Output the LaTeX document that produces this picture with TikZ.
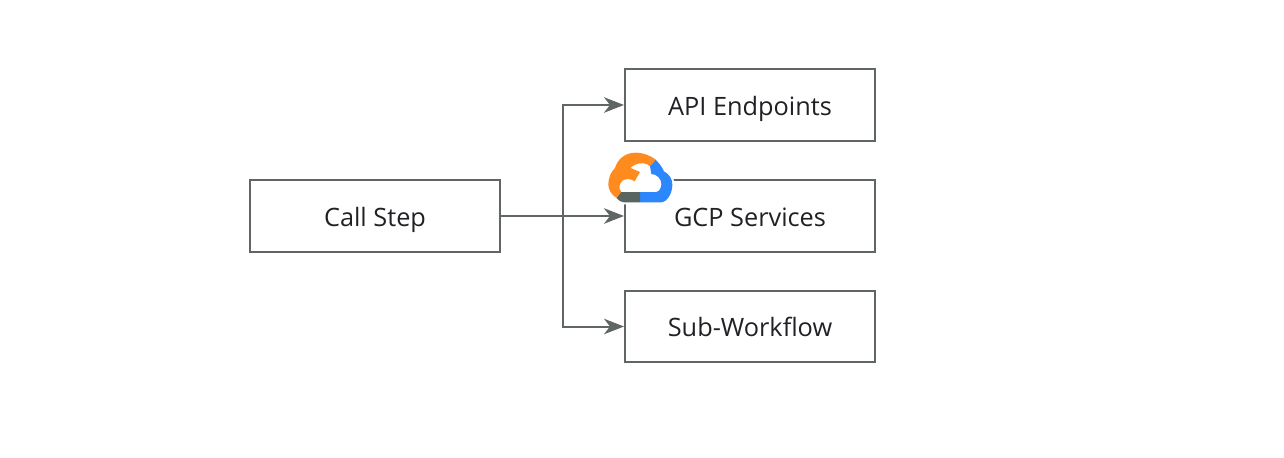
\documentclass[tikz,border=0pt]{standalone}
\usepackage{fontspec}
\setmainfont{Open Sans}
\usepackage{xcolor}
\definecolor{linegrey}  {HTML}{5F6664}
\definecolor{textdark}  {HTML}{202124}
\definecolor{logoorange}{HTML}{FF8A1E}
\definecolor{logoblue}  {HTML}{2B87FB}
\definecolor{logogrey}  {HTML}{5A6461}
\usetikzlibrary{arrows.meta, positioning, calc}

\begin{document}
\begin{tikzpicture}[x=0.2mm, y=-0.2mm,
    box/.style={draw=linegrey, line width=0.4mm, minimum width=50mm,
                minimum height=14.3mm, inner sep=0pt, text=textdark,
                text height=4.5mm, text depth=0.5mm,
                font=\fontsize{14.4}{17}\selectfont},
    link/.style={draw=linegrey, line width=0.4mm,
                 -{Stealth[length=4mm, width=3.1mm, inset=1.2mm]}}]

    \useasboundingbox (0, 0) rectangle (1284, 458);

    % --- Boxes.
    \node[box] (call) at (375, 216) {Call Step};
    \node[box] (api)  at (750, 105) {API Endpoints};
    \node[box] (gcp)  at (750, 216) {GCP Services};
    \node[box] (sub)  at (750, 326.5) {Sub-Workflow};

    % --- Links out of the call step.
    \coordinate (branch) at (562.5, 216);
    \draw[link] (call) -- (gcp);
    \draw[link] (branch) |- (api);
    \draw[link] (branch) |- (sub);

    % --- Cloud logo on the corner of the middle box.
    \begin{scope}[shift={(604, 148)}, x=0.0667mm, y=-0.0667mm]
        \fill[white, draw=white, line width=0.8mm]
            (155,35) .. controls (135,20) and (115,14) .. (95,14)
            .. controls (62,14) and (40,35) .. (33,60)
            .. controls (20,72) and (13,90) .. (13,110)
            .. controls (13,125) and (22,140) .. (38,150)
            .. controls (45,158) and (52,163) .. (60,163)
            -- (170,163)
            .. controls (190,163) and (205,135) .. (205,110)
            .. controls (205,92) and (195,78) .. (180,70)
            .. controls (175,58) and (165,45) .. (155,35) -- cycle;
        \fill[logoorange]
            (155,35) .. controls (135,20) and (115,14) .. (95,14)
            .. controls (62,14) and (40,35) .. (33,60)
            .. controls (20,72) and (13,90) .. (13,110)
            .. controls (13,125) and (22,140) .. (38,150)
            -- (52,132)
            .. controls (40,122) and (45,93) .. (72,93)
            .. controls (80,93) and (88,97) .. (92,100)
            -- (108,72) -- (80,60)
            .. controls (90,47) and (120,38) .. (138,55) -- cycle;
        \fill[logoblue]
            (155,35) .. controls (165,45) and (175,58) .. (180,70)
            .. controls (195,78) and (205,92) .. (205,110)
            .. controls (205,135) and (190,163) .. (170,163)
            -- (108,163) -- (108,132) -- (155,132)
            .. controls (165,132) and (172,120) .. (172,108)
            .. controls (172,92) and (158,78) .. (142,78)
            -- (138,55) -- cycle;
        \fill[logogrey]
            (108,163) -- (60,163)
            .. controls (52,163) and (45,158) .. (38,150)
            -- (52,132) -- (108,132) -- cycle;
    \end{scope}
\end{tikzpicture}
\end{document}
